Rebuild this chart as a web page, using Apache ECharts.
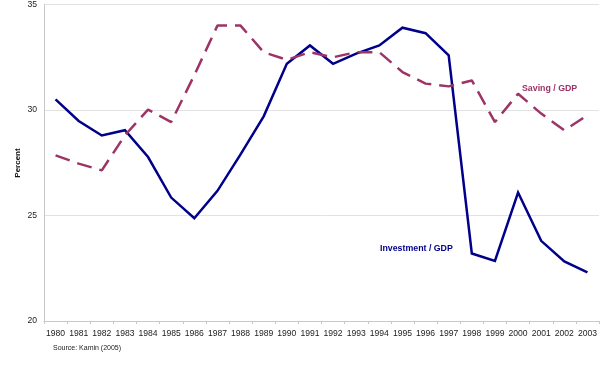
<!DOCTYPE html>
<html>
<head>
<meta charset="utf-8">
<script src="https://cdn.jsdelivr.net/npm/echarts@6/dist/echarts.min.js"></script>
<style>html,body{margin:0;padding:0;background:#fff}#c{width:600px;height:368px}</style>
</head>
<body>
<div id="c"></div>
<script>
var years = ['1980','1981','1982','1983','1984','1985','1986','1987','1988','1989','1990','1991','1992','1993','1994','1995','1996','1997','1998','1999','2000','2001','2002','2003'];
var investment = [30.5,29.48,28.79,29.04,27.77,25.85,24.87,26.17,27.9,29.7,32.19,33.06,32.19,32.67,33.06,33.9,33.64,32.59,23.2,22.85,26.09,23.8,22.82,22.3];
var saving = [27.85,27.46,27.14,28.8,30.02,29.43,31.65,34.0,34.0,32.74,32.38,32.74,32.5,32.74,32.74,31.8,31.25,31.12,31.4,29.43,30.77,29.83,29.04,29.75];
var yTicks = [20,25,30,35];

var chart = echarts.init(document.getElementById('c'), null, {renderer:'canvas'});
var font = 'Arial, "Liberation Sans", sans-serif';
chart.setOption({
  animation:false,
  backgroundColor:'#ffffff',
  grid:{left:44,right:1,top:4,bottom:47,containLabel:false},
  xAxis:{
    type:'category', data:years, boundaryGap:true,
    axisLine:{lineStyle:{color:'#c8c8c8',width:1}},
    axisTick:{show:true,length:3,lineStyle:{color:'#c8c8c8'}},
    axisLabel:{color:'#222',fontSize:8.6,fontFamily:font,margin:8,interval:0}
  },
  yAxis:{
    type:'value', min:yTicks[0], max:yTicks[yTicks.length-1], interval:5,
    axisLine:{show:true,lineStyle:{color:'#c8c8c8',width:1}},
    axisTick:{show:false},
    splitLine:{show:true,lineStyle:{color:'#e2e2e2',width:1}},
    axisLabel:{color:'#222',fontSize:8.6,fontFamily:font,margin:7}
  },
  series:[
    {name:'Investment / GDP',type:'line',data:investment,symbol:'none',
     lineStyle:{color:'#00008a',width:2.5,join:'miter'}},
    {name:'Saving / GDP',type:'line',data:saving,symbol:'none',
     lineStyle:{color:'#9c3466',width:2.5,type:[15,8],cap:'butt'}}
  ],
  graphic:[
    {type:'text',x:18,y:163,rotation:Math.PI/2,style:{text:'Percent',font:'bold 8px '+font,fill:'#111',textAlign:'center',textVerticalAlign:'middle'}},
    {type:'text',x:522,y:89,style:{text:'Saving / GDP',font:'bold 8.8px '+font,fill:'#9c3466',textVerticalAlign:'middle'}},
    {type:'text',x:380,y:249,style:{text:'Investment / GDP',font:'bold 8.8px '+font,fill:'#00008a',textVerticalAlign:'middle'}},
    {type:'text',x:53,y:348,style:{text:'Source: Kamin (2005)',font:'7px '+font,fill:'#222',textVerticalAlign:'middle'}}
  ]
});
</script>
</body>
</html>
